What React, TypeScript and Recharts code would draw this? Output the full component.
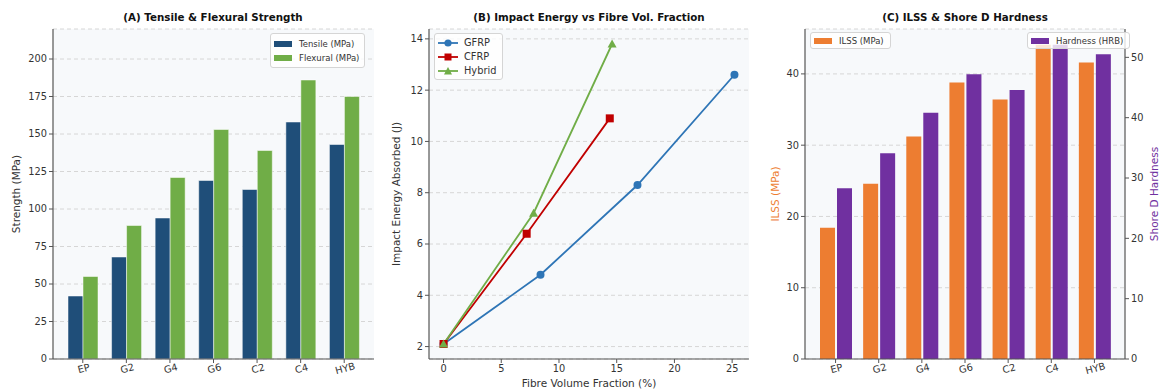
import {
  BarChart,
  Bar,
  LineChart,
  Line,
  XAxis,
  YAxis,
  CartesianGrid,
  Legend,
  Label,
} from 'recharts'

// samples (x categories for panels A and C)
const samples = ['EP', 'G2', 'G4', 'G6', 'C2', 'C4', 'HYB']

// (A) strength, MPa
const tensile = [42, 68, 94, 119, 113, 158, 143]
const flexural = [55, 89, 121, 153, 139, 186, 175]
const strengthTicks = [0, 25, 50, 75, 100, 125, 150, 175, 200]

// (B) impact energy vs fibre volume fraction
const gfrpVf = [0, 8.4, 16.8, 25.2]
const gfrpJ = [2.1, 4.8, 8.3, 12.6]
const cfrpVf = [0, 7.2, 14.4]
const cfrpJ = [2.1, 6.4, 10.9]
const hybridVf = [0, 7.8, 14.6]
const hybridJ = [2.1, 7.2, 13.8]
const vfTicks = [0, 5, 10, 15, 20, 25]
const energyTicks = [2, 4, 6, 8, 10, 12, 14]

// (C) ILSS and hardness
const ilss = [18.4, 24.6, 31.2, 38.8, 36.4, 44.1, 41.6]
const hardness = [28.3, 34.1, 40.8, 47.2, 44.6, 52.1, 50.5]
const ilssTicks = [0, 10, 20, 30, 40]
const hardnessTicks = [0, 10, 20, 30, 40, 50]

const strengthData = samples.map((s, i) => ({ name: s, tensile: tensile[i], flexural: flexural[i] }))
const ilssData = samples.map((s, i) => ({ name: s, ilss: ilss[i], hardness: hardness[i] }))
const toPts = (xs: number[], ys: number[]) => xs.map((x, i) => ({ x, y: ys[i] }))
const gfrp = toPts(gfrpVf, gfrpJ)
const cfrp = toPts(cfrpVf, cfrpJ)
const hybrid = toPts(hybridVf, hybridJ)

const FONT = '"DejaVu Sans", Verdana, sans-serif'
const AXIS = '#555'
const BG = '#f7f9fb'
const tick = { fill: '#333', fontSize: 9.8, fontFamily: FONT }
const labelStyle = { fill: '#333', fontSize: 10.5, fontFamily: FONT }

const C = {
  tensile: '#1f4e79',
  flexural: '#70ad47',
  gfrp: '#2e75b6',
  cfrp: '#c00000',
  hybrid: '#70ad47',
  ilss: '#ed7d31',
  hardness: '#7030a0',
}

const boxStyle: React.CSSProperties = {
  position: 'absolute',
  border: '1px solid #d5d5d5',
  borderRadius: 3,
  background: 'rgba(255,255,255,0.8)',
  padding: '3px 5px 2px 3px',
  fontFamily: FONT,
  fontSize: 8.5,
  color: '#333',
  lineHeight: '14px',
  whiteSpace: 'nowrap',
}

function SwatchRow({ color, label }: { color: string; label: string }) {
  return (
    <div style={{ display: 'flex', alignItems: 'center' }}>
      <span style={{ display: 'inline-block', width: 18, height: 6, background: color, marginRight: 7 }} />
      {label}
    </div>
  )
}

function MarkerIcon({ color, shape }: { color: string; shape: 'circle' | 'square' | 'triangle' }) {
  return (
    <svg width={20} height={10} style={{ marginRight: 6 }}>
      <line x1={0} y1={5} x2={20} y2={5} stroke={color} strokeWidth={1.8} />
      {shape === 'circle' && <circle cx={10} cy={5} r={3.6} fill={color} />}
      {shape === 'square' && <rect x={6.5} y={1.5} width={7} height={7} fill={color} />}
      {shape === 'triangle' && <polygon points="10,1 14,8.5 6,8.5" fill={color} />}
    </svg>
  )
}

const squareDot = (color: string) => (p: any) => (
  <rect key={`s${p.index}`} x={p.cx - 4} y={p.cy - 4} width={8} height={8} fill={color} />
)
const triDot = (color: string) => (p: any) => (
  <polygon
    key={`t${p.index}`}
    points={`${p.cx},${p.cy - 4.5} ${p.cx + 4.5},${p.cy + 3.5} ${p.cx - 4.5},${p.cy + 3.5}`}
    fill={color}
  />
)

const titleStyle = (cx: number): React.CSSProperties => ({
  position: 'absolute',
  top: 11,
  left: cx - 160,
  width: 320,
  textAlign: 'center',
  fontFamily: FONT,
  fontWeight: 'bold',
  fontSize: 10.3,
  color: '#111',
})

export default function App() {
  return (
    <div style={{ position: 'absolute', left: 0, top: 0, width: 1161, height: 389, background: '#fff', overflow: 'hidden' }}>
      {/* (A) */}
      <div style={{ position: 'absolute', left: 0, top: 0 }}>
        <BarChart width={390} height={389} data={strengthData} margin={{ top: 29, right: 16, bottom: 0, left: 0 }} barGap={0}>
          <CartesianGrid vertical={false} strokeDasharray="4 3" stroke="#d6d6d6" fill={BG} />
          <XAxis
            dataKey="name"
            height={30}
            padding={{ left: 8, right: 8 }}
            interval={0}
            angle={-15}
            tick={tick}
            tickSize={4}
            axisLine={{ stroke: AXIS, strokeWidth: 1.2 }}
            tickLine={{ stroke: AXIS }}
          />
          <YAxis
            width={53}
            domain={[0, 220]}
            ticks={strengthTicks}
            tick={tick}
            tickSize={4}
            axisLine={{ stroke: AXIS, strokeWidth: 1.2 }}
            tickLine={{ stroke: AXIS }}
          >
            <Label value="Strength (MPa)" angle={-90} position="center" dx={-10} style={labelStyle} />
          </YAxis>
          <Bar dataKey="tensile" fill={C.tensile} barSize={15} stroke="#fff" strokeWidth={0.5} isAnimationActive={false} />
          <Bar dataKey="flexural" fill={C.flexural} barSize={15} stroke="#fff" strokeWidth={0.5} isAnimationActive={false} />
          <Legend
            layout="vertical"
            align="center"
            verticalAlign="middle"
            wrapperStyle={{ left: 270, top: 33, width: 100, height: 34 }}
            content={() => (
              <div style={{ ...boxStyle, left: 0, top: 0 }}>
                <SwatchRow color={C.tensile} label="Tensile (MPa)" />
                <SwatchRow color={C.flexural} label="Flexural (MPa)" />
              </div>
            )}
          />
        </BarChart>
      </div>
      <div style={titleStyle(213)}>(A) Tensile &amp; Flexural Strength</div>

      {/* (B) */}
      <div style={{ position: 'absolute', left: 380, top: 0 }}>
        <LineChart width={390} height={389} margin={{ top: 29, right: 21, bottom: 0, left: 0 }}>
          <CartesianGrid vertical={false} strokeDasharray="4 3" stroke="#d6d6d6" fill={BG} />
          <XAxis
            dataKey="x"
            type="number"
            domain={[-1.26, 26.46]}
            ticks={vfTicks}
            height={30}
            tick={tick}
            tickSize={4}
            axisLine={{ stroke: AXIS, strokeWidth: 1.2 }}
            tickLine={{ stroke: AXIS }}
            allowDuplicatedCategory={false}
          >
            <Label value="Fibre Volume Fraction (%)" position="center" dy={9} style={labelStyle} />
          </XAxis>
          <YAxis
            width={49}
            type="number"
            domain={[1.515, 14.385]}
            ticks={energyTicks}
            tick={tick}
            tickSize={4}
            axisLine={{ stroke: AXIS, strokeWidth: 1.2 }}
            tickLine={{ stroke: AXIS }}
          >
            <Label value="Impact Energy Absorbed (J)" angle={-90} position="center" dx={-8} style={labelStyle} />
          </YAxis>
          <Line data={gfrp} dataKey="y" stroke={C.gfrp} strokeWidth={1.8} dot={{ r: 4, fill: C.gfrp, stroke: C.gfrp, strokeWidth: 0 }} isAnimationActive={false} />
          <Line data={cfrp} dataKey="y" stroke={C.cfrp} strokeWidth={1.8} dot={squareDot(C.cfrp)} isAnimationActive={false} />
          <Line data={hybrid} dataKey="y" stroke={C.hybrid} strokeWidth={1.8} dot={triDot(C.hybrid)} isAnimationActive={false} />
          <Legend
            layout="vertical"
            align="center"
            verticalAlign="middle"
            wrapperStyle={{ left: 54, top: 33, width: 66, height: 48 }}
            content={() => (
              <div style={{ ...boxStyle, left: 0, top: 0, fontSize: 9.8, padding: '2px 6px 1px 3px' }}>
                <div style={{ display: 'flex', alignItems: 'center' }}><MarkerIcon color={C.gfrp} shape="circle" />GFRP</div>
                <div style={{ display: 'flex', alignItems: 'center' }}><MarkerIcon color={C.cfrp} shape="square" />CFRP</div>
                <div style={{ display: 'flex', alignItems: 'center' }}><MarkerIcon color={C.hybrid} shape="triangle" />Hybrid</div>
              </div>
            )}
          />
        </LineChart>
      </div>
      <div style={titleStyle(589)}>(B) Impact Energy vs Fibre Vol. Fraction</div>

      {/* (C) */}
      <div style={{ position: 'absolute', left: 770, top: 0 }}>
        <BarChart width={391} height={389} data={ilssData} margin={{ top: 29, right: 0, bottom: 0, left: 0 }} barGap={2}>
          <CartesianGrid yAxisId="left" vertical={false} strokeDasharray="4 3" stroke="#d6d6d6" fill={BG} />
          <XAxis
            dataKey="name"
            height={30}
            padding={{ left: 9, right: 9 }}
            interval={0}
            angle={-15}
            tick={tick}
            tickSize={4}
            axisLine={{ stroke: AXIS, strokeWidth: 1.2 }}
            tickLine={{ stroke: AXIS }}
          />
          <YAxis
            yAxisId="left"
            width={35}
            domain={[0, 46.3]}
            ticks={ilssTicks}
            tick={tick}
            tickSize={4}
            axisLine={{ stroke: AXIS, strokeWidth: 1.2 }}
            tickLine={{ stroke: AXIS }}
          >
            <Label value="ILSS (MPa)" angle={-90} position="center" dx={-12} style={{ ...labelStyle, fill: C.ilss }} />
          </YAxis>
          <YAxis
            yAxisId="right"
            orientation="right"
            width={36}
            domain={[0, 54.7]}
            ticks={hardnessTicks}
            tick={tick}
            tickSize={4}
            axisLine={{ stroke: AXIS, strokeWidth: 1.2 }}
            tickLine={{ stroke: AXIS }}
          >
            <Label value="Shore D Hardness" angle={-90} position="center" dx={11} style={{ ...labelStyle, fill: C.hardness }} />
          </YAxis>
          <Bar yAxisId="left" dataKey="ilss" fill={C.ilss} barSize={15} isAnimationActive={false} />
          <Bar yAxisId="right" dataKey="hardness" fill={C.hardness} barSize={15} isAnimationActive={false} />
          <Legend
            layout="vertical"
            align="center"
            verticalAlign="middle"
            wrapperStyle={{ left: 40, top: 32, width: 313, height: 18 }}
            content={() => (
              <div style={{ position: 'relative', width: 313, height: 18 }}>
                <div style={{ ...boxStyle, left: 0, top: 0, padding: '1px 6px 0px 3px' }}>
                  <SwatchRow color={C.ilss} label="ILSS (MPa)" />
                </div>
                <div style={{ ...boxStyle, left: 217, top: 0, padding: '1px 6px 0px 3px' }}>
                  <SwatchRow color={C.hardness} label="Hardness (HRB)" />
                </div>
              </div>
            )}
          />
        </BarChart>
      </div>
      <div style={titleStyle(965)}>(C) ILSS &amp; Shore D Hardness</div>
    </div>
  )
}
